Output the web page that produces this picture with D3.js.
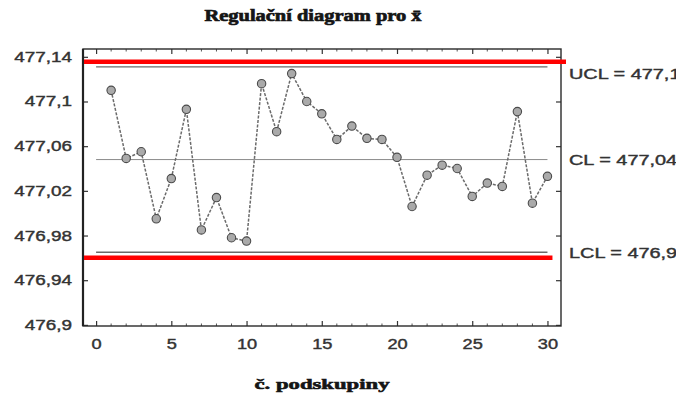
<!DOCTYPE html>
<html>
<head>
<meta charset="utf-8">
<script src="https://cdn.jsdelivr.net/npm/d3@7/dist/d3.min.js"></script>
<style>
  html, body { margin: 0; padding: 0; background: #fff; overflow: hidden; }
  svg { display: block; }
</style>
</head>
<body>
<svg id="chart" width="676" height="401"></svg>
<script>
// Subgroup numbers and their sample means
const subgroups = [1,2,3,4,5,6,7,8,9,10,11,12,13,14,15,16,17,18,19,20,21,22,23,24,25,26,27,28,29,30];
const means = [477.110, 477.049, 477.055, 476.995, 477.031, 477.093, 476.985, 477.014, 476.978, 476.975,
               477.116, 477.073, 477.125, 477.100, 477.089, 477.066, 477.078, 477.067, 477.066, 477.050,
               477.006, 477.034, 477.043, 477.040, 477.015, 477.027, 477.024, 477.091, 477.009, 477.033];

// Control limits
const limitNames = ["UCL", "CL", "LCL"];
const limitValues = [477.131, 477.048, 476.965];

// Highlighted reference levels (red bars)
const highlightValues = [477.1355, 476.960];
const highlightEnds = [30.9, 30.0];

// Axis ticks
const yTicks = [476.9, 476.94, 476.98, 477.02, 477.06, 477.1, 477.14];
const yTickLabels = ["476,9", "476,94", "476,98", "477,02", "477,06", "477,1", "477,14"];
const xTicks = [0, 5, 10, 15, 20, 25, 30];
const xTickLabels = ["0", "5", "10", "15", "20", "25", "30"];

const titleText = "Regulační diagram pro x̄";
const xTitleText = "č. podskupiny";

const svg = d3.select("#chart");
const frame = { left: 83, right: 561, top: 49, bottom: 326 };

const x = d3.scaleLinear().domain([-0.87, 30.9]).range([frame.left, frame.right]);
const y = d3.scaleLinear().domain([476.899, 477.147]).range([frame.bottom, frame.top]);

const sans = "'Liberation Sans', Arial, sans-serif";
const serif = "'Liberation Serif', 'Times New Roman', serif";
const textColor = "#333";

// widen glyphs horizontally by factor k
function stretch(sel, k) {
  sel.each(function () {
    const w = this.getComputedTextLength();
    d3.select(this).attr("textLength", w * k).attr("lengthAdjust", "spacingAndGlyphs");
  });
}
// slightly heavier strokes for the label text
function heavy(sel, w) {
  sel.attr("stroke", function () { return d3.select(this).attr("fill"); })
     .attr("stroke-width", w).attr("paint-order", "stroke");
}

// Title
svg.append("text")
  .attr("x", 313).attr("y", 21)
  .attr("text-anchor", "middle")
  .attr("font-family", serif).attr("font-weight", "bold").attr("font-size", 17)
  .attr("fill", "#151515")
  .attr("textLength", 217).attr("lengthAdjust", "spacingAndGlyphs")
  .text(titleText)
  .call(heavy, 0.7);

// Control lines
svg.append("g").selectAll("line")
  .data(limitValues)
  .join("line")
  .attr("x1", x(0)).attr("x2", x(30))
  .attr("y1", d => y(d)).attr("y2", d => y(d))
  .attr("stroke", (d, i) => i === 1 ? "#8a8a8a" : "#6a6a6a")
  .attr("stroke-width", (d, i) => i === 1 ? 1 : 1.4);

// Series line
const line = d3.line().x((d, i) => x(subgroups[i])).y(d => y(d));
svg.append("path")
  .datum(means)
  .attr("d", line)
  .attr("fill", "none")
  .attr("stroke", "#6b6b6b")
  .attr("stroke-width", 1.5)
  .attr("stroke-dasharray", "3,1.5");

// Points
svg.append("g").selectAll("circle")
  .data(means)
  .join("circle")
  .attr("cx", (d, i) => x(subgroups[i]))
  .attr("cy", d => y(d))
  .attr("r", 4.2)
  .attr("fill", "#aaaaaa")
  .attr("stroke", "#4a4a4a")
  .attr("stroke-width", 1.1);

// Axes with inward ticks
const axisStyle = g => {
  g.select(".domain").remove();
  g.selectAll(".tick line").attr("stroke", "#333").attr("stroke-width", 1.2);
};

const yAxis = svg.append("g")
  .attr("transform", `translate(${frame.left},0)`)
  .call(d3.axisLeft(y).tickValues(yTicks).tickSizeInner(-5).tickSizeOuter(0).tickPadding(11)
    .tickFormat((d, i) => yTickLabels[i]))
  .call(axisStyle);
yAxis.selectAll("text").attr("font-family", sans).attr("font-size", 14).attr("fill", textColor)
  .call(stretch, 1.35).call(heavy, 0.4);

svg.append("g")
  .attr("transform", `translate(${frame.right},0)`)
  .call(d3.axisRight(y).tickValues(yTicks).tickSizeInner(-5).tickSizeOuter(0).tickFormat(""))
  .call(axisStyle);

const xAxis = svg.append("g")
  .attr("transform", `translate(0,${frame.bottom})`)
  .call(d3.axisBottom(x).tickValues(xTicks).tickSizeInner(-5).tickSizeOuter(0).tickPadding(13)
    .tickFormat((d, i) => xTickLabels[i]))
  .call(axisStyle);
xAxis.selectAll("text").attr("font-family", sans).attr("font-size", 14).attr("fill", textColor)
  .call(stretch, 1.3).call(heavy, 0.4);

svg.append("g")
  .attr("transform", `translate(0,${frame.top})`)
  .call(d3.axisTop(x).tickValues(xTicks).tickSizeInner(-5).tickSizeOuter(0).tickFormat(""))
  .call(axisStyle);

// Minor ticks at each subgroup
[frame.bottom, frame.top].forEach((yy, k) => {
  svg.append("g").selectAll("line")
    .data(d3.range(0, 31).filter(v => v % 5 !== 0))
    .join("line")
    .attr("x1", d => x(d)).attr("x2", d => x(d))
    .attr("y1", yy).attr("y2", k === 0 ? yy - 2.5 : yy + 2.5)
    .attr("stroke", "#555").attr("stroke-width", 1);
});

// Frame
svg.append("rect")
  .attr("x", frame.left).attr("y", frame.top)
  .attr("width", frame.right - frame.left).attr("height", frame.bottom - frame.top)
  .attr("fill", "none").attr("stroke", "#2a2a2a").attr("stroke-width", 1.4);
svg.append("line")
  .attr("x1", frame.left).attr("x2", frame.left)
  .attr("y1", frame.top).attr("y2", frame.bottom)
  .attr("stroke", "#222").attr("stroke-width", 2.2);

// Limit labels on the right
svg.append("g").selectAll("text")
  .data(limitValues)
  .join("text")
  .attr("x", 569)
  .attr("y", (d, i) => y(d) + (i === 0 ? 7 : 1))
  .attr("dy", "0.35em")
  .attr("font-family", sans).attr("font-size", 14).attr("fill", textColor)
  .text((d, i) => `${limitNames[i]} = ${d.toFixed(3).replace(".", ",")}`)
  .call(stretch, 1.42).call(heavy, 0.4);

// Red highlight bars
svg.append("g").selectAll("line")
  .data(highlightValues)
  .join("line")
  .attr("x1", frame.left + 1)
  .attr("x2", (d, i) => x(highlightEnds[i]) + 5)
  .attr("y1", d => y(d)).attr("y2", d => y(d))
  .attr("stroke", "#ff0000")
  .attr("stroke-width", 4.5);

// X axis title
svg.append("text")
  .attr("x", 322).attr("y", 389)
  .attr("text-anchor", "middle")
  .attr("font-family", serif).attr("font-weight", "bold").attr("font-size", 15)
  .attr("fill", "#151515")
  .attr("textLength", 135).attr("lengthAdjust", "spacingAndGlyphs")
  .text(xTitleText)
  .call(heavy, 0.6);
</script>
</body>
</html>
